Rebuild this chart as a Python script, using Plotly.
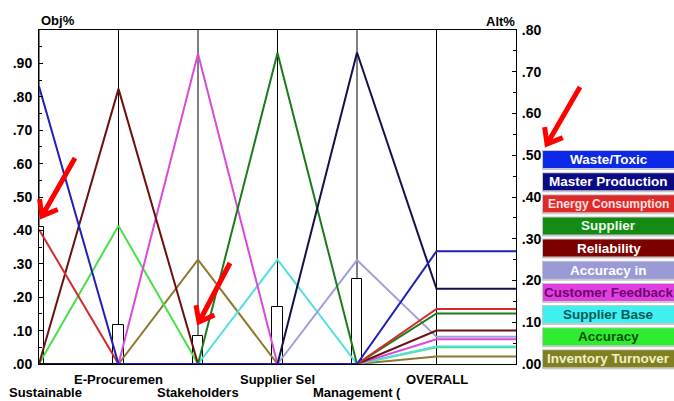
import math
import plotly.graph_objects as go

# ---------------- data ----------------
criteria = ["Sustainable", "E-Procuremen", "Stakeholders", "Supplier Sel", "Management (", "OVERALL"]
obj_weights = [0.41, 0.117, 0.085, 0.172, 0.254]          # Obj% bars (left axis)

alternatives = ["Waste/Toxic", "Master Production", "Energy Consumption", "Supplier",
                "Reliability", "Accuracy in", "Customer Feedback", "Supplier Base",
                "Accuracy", "Inventory Turnover"]

# Alt% per criterion, last value = OVERALL (right axis)
waste_toxic        = [0.665, 0, 0, 0, 0, 0.270]
master_production  = [0, 0, 0, 0, 0.746, 0.180]
energy_consumption = [0.322, 0, 0, 0, 0, 0.132]
supplier           = [0, 0, 0, 0.745, 0, 0.121]
reliability        = [0, 0.659, 0, 0, 0, 0.080]
accuracy_in        = [0, 0, 0, 0, 0.249, 0.065]
customer_feedback  = [0, 0, 0.743, 0, 0, 0.059]
supplier_base      = [0, 0, 0, 0.250, 0, 0.042]
accuracy           = [0, 0.331, 0, 0, 0, 0.040]
inventory_turnover = [0, 0, 0.250, 0, 0, 0.018]

series = [waste_toxic, master_production, energy_consumption, supplier, reliability,
          accuracy_in, customer_feedback, supplier_base, accuracy, inventory_turnover]

line_colors = ["#2020b8", "#12124a", "#d42a2a", "#1c7a1c", "#6e0f0f",
               "#a0a0d8", "#d84ad8", "#50e0e0", "#48e048", "#8a7a30"]
box_colors = ["#0c28e8", "#0a0a84", "#e02a2a", "#148a14", "#7c0000",
              "#9a9ad6", "#e040e0", "#40f0f0", "#30ec30", "#808020"]
text_colors = ["#ffffff", "#ffffff", "#ffe0e0", "#e8ffe8", "#ffffff",
               "#ffffff", "#700070", "#005a5a", "#005000", "#f0f0c8"]
legend_font_sizes = [13.5, 13.5, 12.0, 13.5, 13.5, 13.5, 13.5, 13.5, 13.5, 13.5]

obj_ticks = [0.0, 0.1, 0.2, 0.3, 0.4, 0.5, 0.6, 0.7, 0.8, 0.9]
obj_ticktext = [".00", ".10", ".20", ".30", ".40", ".50", ".60", ".70", ".80", ".90"]
alt_ticks = [0.0, 0.1, 0.2, 0.3, 0.4, 0.5, 0.6, 0.7, 0.8]
alt_ticktext = [".00", ".10", ".20", ".30", ".40", ".50", ".60", ".70", ".80"]

# ---------------- geometry ----------------
W, H = 674, 401
L, R, T, B = 39, 516, 30, 364   # plot area in pixels
FONT = "Arial, Liberation Sans, sans-serif"


def pp(px, py):
    return (px - L) / (R - L), (B - py) / (B - T)


fig = go.Figure()

# Objective bars (left axis)
xpos = list(range(len(criteria)))
fig.add_trace(go.Bar(x=xpos[:5], y=obj_weights, width=0.126,
                     marker=dict(color="white", line=dict(color="black", width=1)),
                     yaxis="y", showlegend=False, hoverinfo="skip"))

# vertical criterion lines from the bar top to the top of the plot
vx, vy = [], []
for i, w in enumerate(obj_weights):
    vx += [xpos[i], xpos[i], None]
    vy += [w, 1.0, None]
vx += [xpos[5], xpos[5]]
vy += [0, 1.0]
fig.add_trace(go.Scatter(x=vx, y=vy, mode="lines", line=dict(color="black", width=1),
                         yaxis="y", showlegend=False, hoverinfo="skip"))

# Alternative lines (right axis)
xs = xpos + [6]
for name, vals, col in reversed(list(zip(alternatives, series, line_colors))):
    ys = list(vals) + [vals[-1]]
    fig.add_trace(go.Scatter(x=xs, y=ys, mode="lines", name=name,
                             line=dict(color=col, width=2), yaxis="y2",
                             showlegend=False))

shapes = []
annotations = []

# criteria labels (staggered)
for i, c in enumerate(criteria):
    row_py = 392 if i % 2 == 0 else 379
    annotations.append(dict(x=xpos[i], xref="x", y=pp(0, row_py)[1], yref="paper",
                            text=c, showarrow=False, xanchor="center", yanchor="middle",
                            xshift=6 if i == 0 else 0,
                            font=dict(family=FONT, size=13, color="black", weight="bold")))

# axis titles
annotations.append(dict(x=pp(39, 0)[0], y=pp(0, 20)[1], xref="paper", yref="paper",
                        text="Obj%", showarrow=False, xanchor="left", yanchor="middle",
                        font=dict(family=FONT, size=13, color="black", weight="bold")))
annotations.append(dict(x=pp(517, 0)[0], y=pp(0, 21)[1], xref="paper", yref="paper",
                        text="Alt%", showarrow=False, xanchor="right", yanchor="middle",
                        font=dict(family=FONT, size=13, color="black", weight="bold")))

# legend boxes
for k, (name, bc, tc, fs) in enumerate(zip(alternatives, box_colors, text_colors,
                                           legend_font_sizes)):
    top = 151 + k * 22.15
    bot = top + 17
    x0, y0 = pp(543, bot)
    x1, y1 = pp(680, top)
    sx0, sy0 = pp(542, bot + 2)
    sx1, sy1 = pp(680, top - 1)
    shapes.append(dict(type="rect", xref="paper", yref="paper", x0=sx0, y0=sy0, x1=sx1, y1=sy1,
                       fillcolor="#c8c8c8", line=dict(width=0), layer="above"))
    shapes.append(dict(type="rect", xref="paper", yref="paper", x0=x0, y0=y0, x1=x1, y1=y1,
                       fillcolor=bc, line=dict(width=0), layer="above"))
    cx, cy = pp(608.5, (top + bot) / 2)
    annotations.append(dict(x=cx, y=cy, xref="paper", yref="paper", text=name,
                            showarrow=False, xanchor="center", yanchor="middle",
                            font=dict(family=FONT, size=fs, color=tc, weight="bold")))

# red arrows
def arrow(tail, tip, wing=17, ang=38):
    tx, ty = tip
    dx, dy = tail[0] - tx, tail[1] - ty
    n = math.hypot(dx, dy)
    ux, uy = dx / n, dy / n
    pts = []
    for s in (1, -1):
        a = math.radians(ang * s)
        wx = ux * math.cos(a) - uy * math.sin(a)
        wy = ux * math.sin(a) + uy * math.cos(a)
        pts.append((tx + wing * wx, ty + wing * wy))

    def f(p):
        x, y = pp(*p)
        return f"{x:.5f} {y:.5f}"
    path = (f"M {f(tail)} L {f(tip)} M {f(pts[0])} L {f(tip)} L {f(pts[1])}")
    shapes.append(dict(type="path", xref="paper", yref="paper", path=path,
                       line=dict(color="#ff0000", width=5), layer="above"))


arrow((75, 158), (42, 216))
arrow((230, 263), (199, 322))
arrow((580, 87), (547, 144))

fig.update_layout(
    width=W, height=H,
    margin=dict(l=L, r=W - R, t=T, b=H - B, pad=0),
    paper_bgcolor="white", plot_bgcolor="white",
    showlegend=False, bargap=0,
    font=dict(family=FONT, size=13, color="black"),
    xaxis=dict(range=[0, 6], showgrid=False, zeroline=False, showticklabels=False,
               ticks="", showline=True, linecolor="black", linewidth=1, mirror=True,
               fixedrange=True),
    yaxis=dict(range=[0, 1.0], tickvals=obj_ticks, ticktext=obj_ticktext,
               ticks="inside", ticklen=4, tickcolor="black",
               minor=dict(dtick=0.05, ticks="inside", ticklen=3, tickcolor="black"),
               showgrid=False, zeroline=False, showline=True, linecolor="black",
               linewidth=1, ticklabelstandoff=3,
               tickfont=dict(family=FONT, size=14, color="black", weight="bold")),
    yaxis2=dict(range=[0, 0.8], overlaying="y", side="right", tickvals=alt_ticks,
                ticktext=alt_ticktext, ticks="inside", ticklen=4, tickcolor="black",
                minor=dict(dtick=0.05, ticks="inside", ticklen=3, tickcolor="black"),
                showgrid=False, zeroline=False, showline=True, linecolor="black",
                linewidth=1, ticklabelstandoff=2,
                tickfont=dict(family=FONT, size=14, color="black", weight="bold")),
    shapes=shapes, annotations=annotations,
)

fig.write_html("out.html", config={"displayModeBar": False},
               post_script="document.body.style.margin='0';document.body.style.overflow='hidden';")
